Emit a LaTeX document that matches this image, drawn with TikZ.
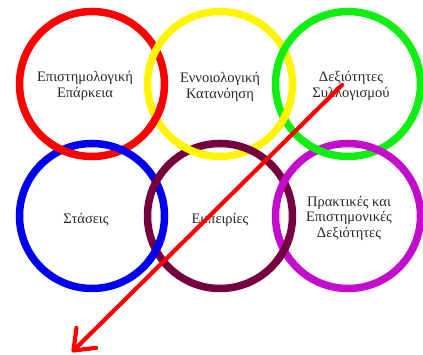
\documentclass[tikz,border=0pt]{standalone}
\usepackage{fontspec}
\setmainfont{Liberation Serif}
\usetikzlibrary{arrows.meta}
\definecolor{ringred}{HTML}{FF0000}
\definecolor{ringyellow}{HTML}{FFF500}
\definecolor{ringgreen}{HTML}{11EE11}
\definecolor{ringblue}{HTML}{0000F0}
\definecolor{ringmaroon}{HTML}{76003F}
\definecolor{ringmagenta}{HTML}{C40CCC}
\definecolor{arrowred}{HTML}{FF0000}
\tikzset{
  ring/.style={circle, draw=#1, line width=7.5pt, minimum size=145pt, inner sep=0pt},
  ringarc/.style={draw=#1, line width=7.5pt},
  txt/.style={align=center, font=\fontsize{14.5}{15.5}\selectfont, text=black!85, inner sep=0pt},
  bigarrow/.style={draw=arrowred, line width=4.2pt, line cap=round,
    -{Straight Barb[length=18pt, width=28pt, line cap=round, line join=round]}}
}
\begin{document}
\begin{tikzpicture}[x=1pt, y=1pt]
  \useasboundingbox (0,0) rectangle (423,355);
  % the six rings
  \node[ring=ringred]     (epistem) at (92,271)  {};
  \node[ring=ringyellow]  (ennoio)  at (220,271) {};
  \node[ring=ringgreen]   (syllog)  at (348,271) {};
  \node[ring=ringblue]    (staseis) at (92,139)  {};
  \node[ring=ringmaroon]  (empeir)  at (220,139) {};
  \node[ring=ringmagenta] (praktik) at (348,139) {};
  % interlacing: bring selected arcs back on top
  \path[ringarc=ringred]    (92,271)  ++(-40:72.5)  arc[start angle=-40,  end angle=-16,  radius=72.5];
  \path[ringarc=ringred]    (92,271)  ++(-127:72.5) arc[start angle=-127, end angle=-102, radius=72.5];
  \path[ringarc=ringyellow] (220,271) ++(-40:72.5)  arc[start angle=-40,  end angle=-16,  radius=72.5];
  \path[ringarc=ringyellow] (220,271) ++(-127:72.5) arc[start angle=-127, end angle=-102, radius=72.5];
  \path[ringarc=ringgreen]  (348,271) ++(-127:72.5) arc[start angle=-127, end angle=-102, radius=72.5];
  \path[ringarc=ringblue]   (92,139)  ++(-40:72.5)  arc[start angle=-40,  end angle=-16,  radius=72.5];
  \path[ringarc=ringmaroon] (220,139) ++(-40:72.5)  arc[start angle=-40,  end angle=-16,  radius=72.5];
  % labels
  \node[txt] (t1) at (85,269)  {Επιστημολογική\\Επάρκεια};
  \node[txt] (t2) at (220,268) {Εννοιολογική\\Κατανόηση};
  \node[txt] (t3) at (351,269) {Δεξιότητες\\Συλλογισμού};
  \node[txt] (t4) at (86,135)  {Στάσεις};
  \node[txt] (t5) at (220,135) {Εμπειρίες};
  \node[txt] (t6) at (349,137) {Πρακτικές και\\Επιστημονικές\\Δεξιότητες};
  % the arrow across the rings
  \coordinate (arrowstart) at (342,270);
  \coordinate (arrowend) at (72,3);
  \draw[bigarrow] (arrowstart) -- (arrowend);
\end{tikzpicture}
\end{document}
